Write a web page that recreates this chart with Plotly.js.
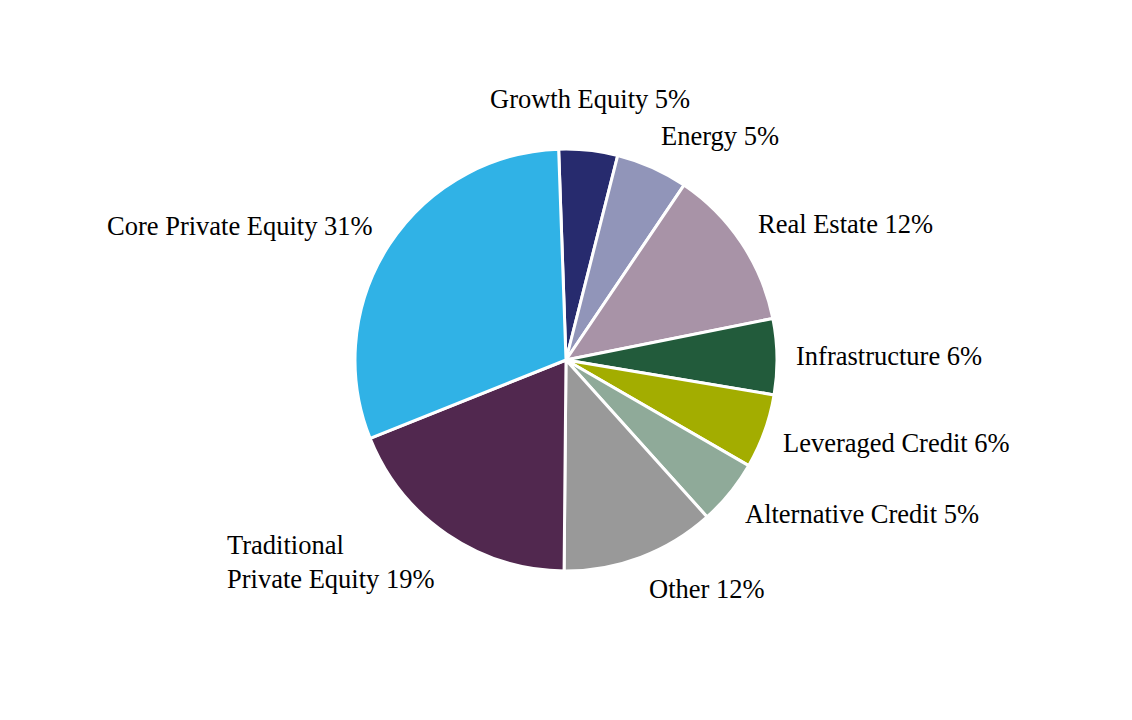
<!DOCTYPE html>
<html>
<head>
<meta charset="utf-8">
<script src="https://cdn.plot.ly/plotly-3.0.1.min.js"></script>
<style>html,body{margin:0;padding:0;background:#fff;}#chart{width:1132px;height:720px;}</style>
</head>
<body>
<div id="chart"></div>
<script>
const categories = ["Growth Equity", "Energy", "Real Estate", "Infrastructure", "Leveraged Credit", "Alternative Credit", "Other", "Traditional<br>Private Equity", "Core Private Equity"];
const shares = [4.5, 5.5, 12.4, 5.8, 5.7, 5.0, 11.8, 18.8, 30.5];
const shareLabels = ["5%", "5%", "12%", "6%", "6%", "5%", "12%", "19%", "31%"];
const colors = ["#272b6e", "#9195b9", "#a893a7", "#225b3b", "#a3ad00", "#8faa99", "#999999", "#51284f", "#30b2e6"];

const W = 1132, H = 720;
const startDeg = -2;              // rotation of first slice edge from 12 o'clock
const cx = W / 2, cy = H / 2, R = 211;
const labelRx = R + 17, labelRy = R + 34;

const total = shares.reduce((a, b) => a + b, 0);
let cum = 0;
const annotations = shares.map((v, i) => {
  const mid = (startDeg + (cum + v / 2) / total * 360) * Math.PI / 180;
  cum += v;
  const s = Math.sin(mid), c = Math.cos(mid);
  const px = cx + labelRx * s, py = cy - labelRy * c;
  return {
    xref: "paper", yref: "paper",
    x: px / W, y: 1 - py / H,
    xanchor: s > 0.25 ? "left" : (s < -0.25 ? "right" : "center"),
    yanchor: c > 0.95 ? "bottom" : "middle",
    align: "left",
    showarrow: false,
    text: categories[i] + " " + shareLabels[i],
    font: {family: "Liberation Serif", size: 26.5, color: "#000000"}
  };
});

Plotly.newPlot("chart", [{
  type: "pie",
  labels: categories,
  values: shares,
  textinfo: "none",
  sort: false,
  direction: "clockwise",
  rotation: startDeg,
  hoverinfo: "none",
  domain: {x: [0, 1], y: [(H / 2 - R) / H, (H / 2 + R) / H]},
  marker: {colors: colors, line: {color: "#ffffff", width: 3}}
}], {
  width: W, height: H,
  showlegend: false,
  margin: {l: 0, r: 0, t: 0, b: 0},
  paper_bgcolor: "#ffffff",
  font: {family: "Liberation Serif", size: 26.5, color: "#000"},
  annotations: annotations
}, {displayModeBar: false, staticPlot: true});
</script>
</body>
</html>
